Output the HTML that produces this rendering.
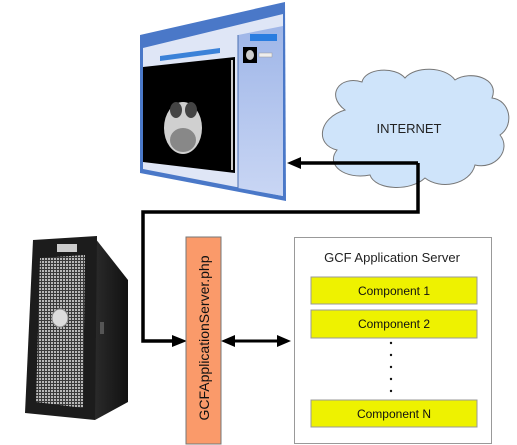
<!DOCTYPE html>
<html><head><meta charset="utf-8"><style>
html,body{margin:0;padding:0;background:#fff;width:517px;height:445px;overflow:hidden}
svg{display:block}
text{font-family:"Liberation Sans",Arial,sans-serif}
</style></head><body>
<svg width="517" height="445" viewBox="0 0 517 445" xmlns="http://www.w3.org/2000/svg">
<defs>
<pattern id="grill" width="3" height="3" patternUnits="userSpaceOnUse">
<rect width="3" height="3" fill="#3a3a3a"/><rect width="2" height="2" fill="#b8b8b8"/>
</pattern>
<linearGradient id="side" x1="0" x2="1"><stop offset="0" stop-color="#2a2a2a"/><stop offset="1" stop-color="#111"/></linearGradient>
<linearGradient id="panel" x1="0" x2="0" y1="0" y2="1"><stop offset="0" stop-color="#9fb6e8"/><stop offset="1" stop-color="#c9d6f4"/></linearGradient>
</defs>

<!-- browser window -->
<polygon points="140,35 285,2 286,201 140,173" fill="#4a78c8"/>
<polygon points="143,48 283,14 283,196 143,169" fill="#dfe6f6"/>
<polygon points="238,35 283,26 283,196 238,188" fill="url(#panel)"/>
<line x1="238" y1="35" x2="238" y2="188" stroke="#4a6fb0" stroke-width="1"/>
<polygon points="143,67 235,57 235,173 143,162" fill="#000"/>
<ellipse cx="183" cy="128" rx="19" ry="26" fill="#d0d0d0"/>
<ellipse cx="183" cy="140" rx="13" ry="12" fill="#888"/>
<ellipse cx="176" cy="110" rx="6" ry="8" fill="#444"/>
<ellipse cx="191" cy="110" rx="6" ry="8" fill="#444"/>
<rect x="231" y="60" width="2" height="110" fill="#ccc"/>
<rect x="250" y="34" width="27" height="7" fill="#2a7de0"/>
<rect x="243" y="47" width="14" height="16" fill="#000"/>
<ellipse cx="250" cy="55" rx="4" ry="5" fill="#ccc"/>
<rect x="259" y="53" width="13" height="4" fill="#eee" stroke="#999" stroke-width="0.5"/>
<polygon points="160,56 220,48 220,53 160,61" fill="#3b82d8"/>

<!-- cloud -->
<path d="M345,110 C325,95 340,75 362,82 C365,68 395,66 405,78 C415,66 445,66 455,80 C470,70 500,78 492,98 C510,100 515,125 500,135 C512,150 495,170 475,165 C470,185 440,190 425,178 C410,192 375,190 370,175 C345,180 325,165 337,150 C315,145 318,118 345,110 Z" fill="#cfe4fa" stroke="#777" stroke-width="1"/>
<text x="409" y="133" font-size="13" text-anchor="middle" fill="#222">INTERNET</text>

<!-- connectors -->
<polyline points="418,163 418,212 143,212 143,341 178,341" fill="none" stroke="#000" stroke-width="3.5"/>
<line x1="418" y1="163" x2="298" y2="163" stroke="#000" stroke-width="3.5"/>
<polygon points="287,163 301,157 301,169" fill="#000"/>
<polygon points="187,341 172,335 172,347" fill="#000"/>
<line x1="232" y1="341" x2="280" y2="341" stroke="#000" stroke-width="3"/>
<polygon points="221,341 235,335 235,347" fill="#000"/>
<polygon points="291,341 277,335 277,347" fill="#000"/>

<!-- server tower -->
<polygon points="95,238 128,280 128,402 95,420" fill="url(#side)"/>
<polygon points="33,240 97,236 95,420 25,413" fill="#1c1c1c"/>
<polygon points="40,258 85,255 83,408 36,402" fill="url(#grill)"/>
<rect x="57" y="244" width="20" height="8" fill="#ccc"/>
<ellipse cx="60" cy="318" rx="8" ry="9" fill="#ddd" stroke="#888"/>
<rect x="100" y="322" width="4" height="12" fill="#555"/>

<!-- orange php box -->
<rect x="186" y="237" width="35" height="207" fill="#fa9a6a" stroke="#777" stroke-width="1"/>
<text transform="translate(209,338) rotate(-90)" font-size="14" text-anchor="middle" fill="#111">GCFApplicationServer.php</text>

<!-- app server -->
<rect x="294.5" y="237.5" width="197" height="206" fill="#fff" stroke="#999" stroke-width="1"/>
<text x="392" y="262" font-size="13" text-anchor="middle" fill="#222">GCF Application Server</text>
<rect x="311" y="277" width="166" height="27" fill="#eef200" stroke="#999"/>
<text x="394" y="295" font-size="12" text-anchor="middle" fill="#111">Component 1</text>
<rect x="311" y="310" width="166" height="28" fill="#eef200" stroke="#999"/>
<text x="394" y="328" font-size="12" text-anchor="middle" fill="#111">Component 2</text>
<g fill="#111"><circle cx="391" cy="343" r="1.2"/><circle cx="391" cy="355" r="1.2"/><circle cx="391" cy="367" r="1.2"/><circle cx="391" cy="379" r="1.2"/><circle cx="391" cy="391" r="1.2"/></g>
<rect x="311" y="400" width="166" height="27" fill="#eef200" stroke="#999"/>
<text x="394" y="418" font-size="12" text-anchor="middle" fill="#111">Component N</text>
</svg>
</body></html>
